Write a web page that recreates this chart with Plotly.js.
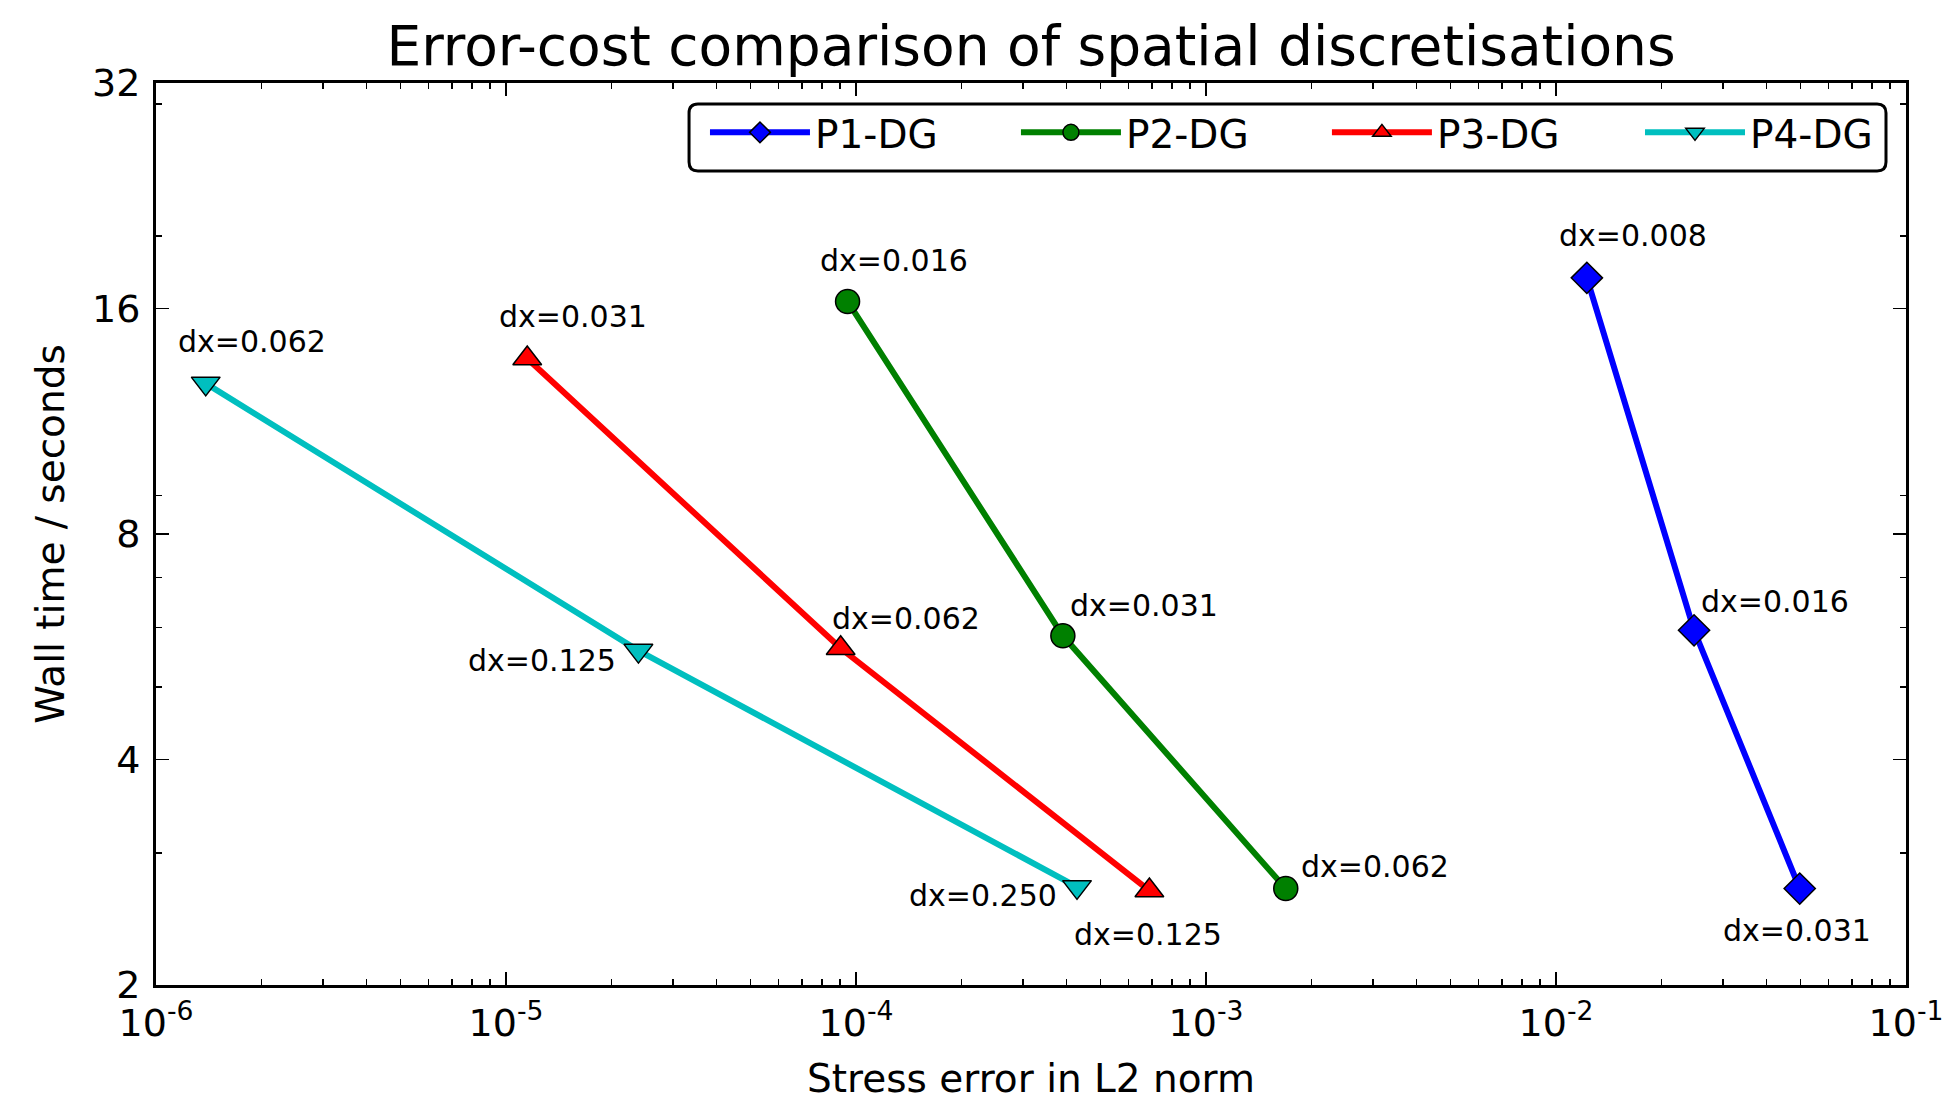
<!DOCTYPE html>
<html>
<head>
<meta charset="utf-8">
<script src="https://cdn.plot.ly/plotly-3.0.1.min.js"></script>
<style>
  html, body { margin: 0; padding: 0; background: #ffffff; }
  #chart { width: 1946px; height: 1101px; }
</style>
</head>
<body>
<div id="chart"></div>
<script>
// Error-cost data for four DG discretisations: stress error (L2 norm) vs wall time (s)
const seriesNames = ["P1-DG", "P2-DG", "P3-DG", "P4-DG"];

const errP1 = [0.01225, 0.0248, 0.0497];
const timeP1 = [17.58, 5.95, 2.69];
const dxP1 = ["0.008", "0.016", "0.031"];

const errP2 = [9.46e-5, 3.90e-4, 1.69e-3];
const timeP2 = [16.35, 5.85, 2.69];
const dxP2 = ["0.016", "0.031", "0.062"];

const errP3 = [1.15e-5, 9.04e-5, 6.89e-4];
const timeP3 = [13.72, 5.63, 2.674];
const dxP3 = ["0.031", "0.062", "0.125"];

const errP4 = [1.387e-6, 2.39e-5, 4.28e-4];
const timeP4 = [12.71, 5.59, 2.704];
const dxP4 = ["0.062", "0.125", "0.250"];

const yTickVals = [2, 4, 8, 16, 32];
const yTickText = ["2", "4", "8", "16", "32"];
const xTickVals = [1e-6, 1e-5, 1e-4, 1e-3, 1e-2, 1e-1];
const xTickText = ["10<sup>-6</sup>", "10<sup>-5</sup>", "10<sup>-4</sup>",
                   "10<sup>-3</sup>", "10<sup>-2</sup>", "10<sup>-1</sup>"];

// ---- styling -------------------------------------------------------------
const FONT = "DejaVu Sans, Liberation Sans, sans-serif";
const styles = [
  { color: "#0000ff", symbol: "diamond",       size: 24 },
  { color: "#008000", symbol: "circle",        size: 24 },
  { color: "#ff0000", symbol: "triangle-up",   size: 25 },
  { color: "#00bfbf", symbol: "triangle-down", size: 25 }
];
// pixel offsets (right, down) of each "dx=" label from its point
const labelOffsets = [
  [[46, -42], [81, -29], [-3, 42]],
  [[46, -41], [81, -30], [89, -22]],
  [[46, -42], [65, -30], [-1, 44]],
  [[46, -42], [-96, 10], [-94, 9]]
];
// one legend per series so the entries sit evenly in a single framed row
const legendX = [0.3137, 0.4914, 0.6691, 0.8480];
const legendIds = ["legend", "legend2", "legend3", "legend4"];

const errs = [errP1, errP2, errP3, errP4];
const times = [timeP1, timeP2, timeP3, timeP4];
const dxs = [dxP1, dxP2, dxP3, dxP4];

const traces = errs.map((e, i) => ({
  type: "scatter",
  mode: "lines+markers",
  name: seriesNames[i],
  legend: legendIds[i],
  x: e,
  y: times[i],
  line: { color: styles[i].color, width: 6 },
  marker: {
    symbol: styles[i].symbol,
    size: styles[i].size,
    color: styles[i].color,
    line: { color: "#000000", width: 1.5 }
  },
  hoverinfo: "x+y+name"
}));

const annotations = [];
errs.forEach((e, i) => {
  e.forEach((xv, j) => {
    annotations.push({
      x: Math.log10(xv),
      y: Math.log10(times[i][j]),
      xref: "x", yref: "y",
      text: "dx=" + dxs[i][j],
      showarrow: false,
      xanchor: "center", yanchor: "middle",
      xshift: labelOffsets[i][j][0],
      yshift: -labelOffsets[i][j][1],
      font: { family: FONT, size: 30, color: "#000000" }
    });
  });
});

// minor ticks: 2..9 in every decade on x
const xMinor = [];
for (let p = -6; p < -1; p++) {
  for (let k = 2; k <= 9; k++) xMinor.push(k * Math.pow(10, p));
}
const yMinor = [3, 5, 6, 7, 9, 20, 30];

const axisCommon = {
  type: "log",
  showline: true,
  linecolor: "#000000",
  linewidth: 3,
  mirror: "ticks",
  ticks: "inside",
  ticklen: 13,
  tickwidth: 1.5,
  tickcolor: "#000000",
  showgrid: false,
  zeroline: false,
  tickmode: "array",
  tickfont: { family: FONT, size: 38, color: "#000000" },
  automargin: false
};

// rounded frame behind the legend row (paper fractions)
const fx0 = 0.3046, fx1 = 0.98857, fy0 = 0.90244, fy1 = 0.97672;
const rx = 0.0051, ry = 0.0100;
const framePath =
  "M" + (fx0 + rx) + "," + fy1 +
  " L" + (fx1 - rx) + "," + fy1 +
  " Q" + fx1 + "," + fy1 + " " + fx1 + "," + (fy1 - ry) +
  " L" + fx1 + "," + (fy0 + ry) +
  " Q" + fx1 + "," + fy0 + " " + (fx1 - rx) + "," + fy0 +
  " L" + (fx0 + rx) + "," + fy0 +
  " Q" + fx0 + "," + fy0 + " " + fx0 + "," + (fy0 + ry) +
  " L" + fx0 + "," + (fy1 - ry) +
  " Q" + fx0 + "," + fy1 + " " + (fx0 + rx) + "," + fy1 + " Z";

const layout = {
  width: 1946,
  height: 1101,
  paper_bgcolor: "#ffffff",
  plot_bgcolor: "#ffffff",
  margin: { l: 156, r: 40, t: 83, b: 116, pad: 0 },
  font: { family: FONT, color: "#000000" },
  title: {
    text: "Error-cost comparison of spatial discretisations",
    font: { family: FONT, size: 55, color: "#000000" },
    xref: "paper", x: 0.5, xanchor: "center",
    yref: "paper", y: 1, yanchor: "bottom",
    pad: { b: 18 }
  },
  xaxis: Object.assign({}, axisCommon, {
    range: [-6, -1],
    tickvals: xTickVals,
    ticktext: xTickText,
    ticklabelstandoff: 2,
    minor: { tickmode: "array", tickvals: xMinor, ticks: "inside", ticklen: 6, tickwidth: 1.5, tickcolor: "#000000" },
    title: { text: "Stress error in L2 norm", font: { family: FONT, size: 39, color: "#000000" }, standoff: 28 }
  }),
  yaxis: Object.assign({}, axisCommon, {
    range: [Math.log10(2), Math.log10(32)],
    tickvals: yTickVals,
    ticktext: yTickText,
    ticklabelstandoff: 5,
    minor: { tickmode: "array", tickvals: yMinor, ticks: "inside", ticklen: 6, tickwidth: 1.5, tickcolor: "#000000" },
    title: { text: "Wall time / seconds", font: { family: FONT, size: 39, color: "#000000" }, standoff: 16 }
  }),
  shapes: [{
    type: "path",
    xref: "paper", yref: "paper",
    path: framePath,
    line: { color: "#000000", width: 3 },
    fillcolor: "#ffffff",
    layer: "above"
  }],
  showlegend: true,
  annotations: annotations
};

legendIds.forEach((id, i) => {
  layout[id] = {
    orientation: "h",
    x: legendX[i], xanchor: "left",
    y: 0.9451, yanchor: "middle",
    bgcolor: "rgba(0,0,0,0)",
    borderwidth: 0,
    font: { family: FONT, size: 39, color: "#000000" },
    itemwidth: 100,
    itemsizing: "trace"
  };
});

Plotly.newPlot("chart", traces, layout, { staticPlot: true, displayModeBar: false });
</script>
</body>
</html>
